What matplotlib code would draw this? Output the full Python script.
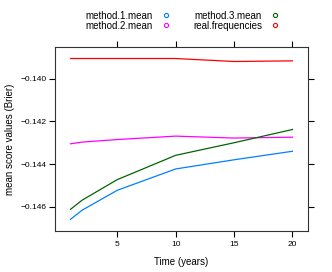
import matplotlib
matplotlib.use("Agg")
import matplotlib.pyplot as plt
from matplotlib.lines import Line2D

plt.rcParams['font.family'] = ['Liberation Sans', 'DejaVu Sans']

# data
years = [1, 2, 5, 10, 15, 20]
method_1_mean = [-0.14659, -0.14616, -0.14523, -0.14423, -0.14380, -0.14340]
method_2_mean = [-0.14305, -0.14297, -0.14285, -0.14269, -0.14278, -0.14274]
method_3_mean = [-0.14612, -0.14569, -0.14473, -0.14359, -0.14300, -0.14238]
real_frequencies = [-0.13905, -0.13905, -0.13905, -0.13905, -0.13919, -0.13916]

series = [
    ("method.1.mean", method_1_mean, "#0080ff"),
    ("method.2.mean", method_2_mean, "#ff00ff"),
    ("method.3.mean", method_3_mean, "#006400"),
    ("real.frequencies", real_frequencies, "#ff0000"),
]

fig = plt.figure(figsize=(3.32, 2.72), dpi=100)
ax = fig.add_axes([0.1657, 0.1507, 0.762, 0.6765])

for name, vals, col in series:
    ax.plot(years, vals, color=col, lw=0.9)

ax.set_xlim(-0.33, 21.33)
ax.set_ylim(-0.14714, -0.13851)
ax.set_xticks([5, 10, 15, 20])
ax.set_yticks([-0.146, -0.144, -0.142, -0.140])
ax.set_yticklabels(["\u22120.146", "\u22120.144", "\u22120.142", "\u22120.140"])
ax.tick_params(direction='out', length=4, width=0.8, labelsize=6,
               top=True, right=True, labeltop=False, labelright=False, pad=2)
ax.tick_params(axis='x', pad=3.5)
for s in ax.spines.values():
    s.set_linewidth(0.8)
    s.set_color("#333333")

ax.set_xlabel("Time (years)", fontsize=7, labelpad=6)
ax.set_ylabel("mean score values (Brier)", fontsize=7, labelpad=4)

# key above the panel, text first then an open circle
handles = [Line2D([], [], ls='none', marker='o', mfc='none', mec=col, ms=3, mew=0.8)
           for _, _, col in series]
labels = [name for name, _, _ in series]
fig.legend(handles, labels, ncol=2, loc='upper center', bbox_to_anchor=(0.55, 0.985),
           frameon=False, fontsize=7, markerfirst=False, handlelength=1.0,
           handletextpad=0.8, columnspacing=2.3, labelspacing=0.0, borderpad=0.2)

fig.savefig("out.png", dpi=100)
